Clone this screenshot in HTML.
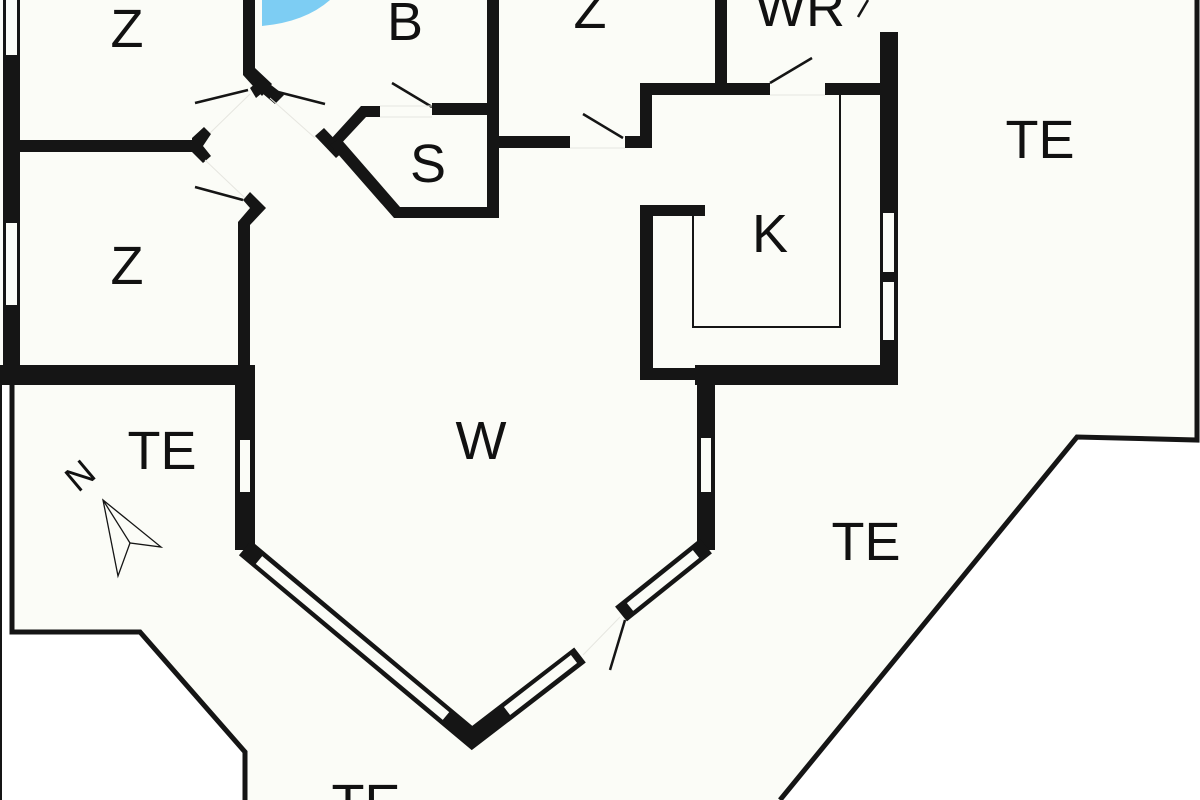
<!DOCTYPE html>
<html><head><meta charset="utf-8"><style>
html,body{margin:0;padding:0;background:#fff;}
svg{display:block;}
text{font-family:"Liberation Sans",sans-serif;fill:#111;}
</style></head><body>
<svg width="1200" height="800" viewBox="0 0 1200 800" xmlns="http://www.w3.org/2000/svg">
<rect width="1200" height="800" fill="#fff"/>
<polygon points="0,0 1197,0 1197,440 1077,437 780,800 245,800 245,752 140,632 12,632 12,385 0,385" fill="#fbfcf7"/>
<path d="M262,0 L330,0 Q305,22 262,26 Z" fill="#7dcdf3"/>
<g fill="#151515" stroke="none">
<rect x="3" y="55" width="17" height="168"/>
<rect x="3" y="305" width="17" height="80"/>
<rect x="3" y="0" width="3" height="55"/><rect x="17" y="0" width="3" height="55"/>
<rect x="3" y="222" width="3" height="84"/><rect x="17" y="222" width="3" height="84"/>
<rect x="18" y="140" width="180" height="12"/>
<polygon points="192,138 204,127 211,134 203,146 211,156 203,163 192,152"/>
<polygon points="243,0 255,0 255,68 272,84 262,96 243,75"/>
<polygon points="250,88 262,78 284,95 275,104 262,93 256,98"/>
<polygon points="238,222 250,208 243,200 250,192 266,208 250,225 250,370 238,370"/>
<rect x="0" y="365" width="255" height="20"/>
<rect x="235" y="368" width="20" height="72"/>
<rect x="235" y="492" width="20" height="58"/>
<rect x="235" y="440" width="5" height="52"/><rect x="250" y="440" width="5" height="52"/>
<rect x="697" y="368" width="18" height="70"/>
<rect x="697" y="492" width="18" height="58"/>
<rect x="697" y="438" width="4" height="54"/><rect x="711" y="438" width="4" height="54"/>
<rect x="695" y="365" width="202" height="20"/>
<rect x="640" y="205" width="13" height="175"/>
<rect x="640" y="368" width="60" height="12"/>
<rect x="640" y="205" width="65" height="11"/>
<rect x="880" y="32" width="18" height="181"/>
<rect x="880" y="272" width="18" height="10"/>
<rect x="880" y="340" width="18" height="45"/>
<rect x="880" y="213" width="3" height="127"/><rect x="894" y="213" width="4" height="127"/>
<rect x="640" y="83" width="130" height="12"/>
<rect x="825" y="83" width="60" height="12"/>
<rect x="715" y="0" width="12" height="90"/>
<rect x="640" y="83" width="12" height="65"/>
<rect x="625" y="136" width="27" height="12"/>
<rect x="497" y="136" width="73" height="12"/>
<rect x="487" y="0" width="12" height="218"/>
<rect x="432" y="103" width="67" height="12"/>
<polygon points="361,106 380,106 380,117 366,117 338,147 330,140"/>
<polygon points="315,136 324,128 345,150 336,158"/>
<polygon points="330,145 340,138 400,207 499,207 499,218 394,218"/>
</g>
<!-- diagonal walls -->
<g fill="none" stroke="#151515" stroke-width="19" stroke-linejoin="miter" stroke-miterlimit="10">
<polyline points="245,548 472,738 580,655"/>
<line x1="621" y1="614" x2="706" y2="546"/>
</g>
<g fill="none" stroke="#fbfcf7" stroke-width="10" stroke-linecap="butt">
<line x1="259" y1="560" x2="446" y2="716"/>
<line x1="507" y1="711" x2="574" y2="659"/>
<line x1="630" y1="607" x2="696" y2="554"/>
</g>
<g stroke="#151515" fill="none">
<polyline points="12,385 12,632 140,632 245,752 245,800" stroke-width="5"/>
<polyline points="1197,0 1197,440 1077,437 780,800" stroke-width="5"/>
<polyline points="693,215 693,327 840,327 840,95" stroke-width="2"/>
<line x1="1" y1="385" x2="1" y2="800" stroke-width="2"/>
<line x1="195" y1="103" x2="248" y2="90" stroke-width="2.5"/>
<line x1="278" y1="92" x2="325" y2="104" stroke-width="2.5"/>
<line x1="195" y1="187" x2="243" y2="200" stroke-width="2.5"/>
<line x1="392" y1="83" x2="432" y2="107" stroke-width="2.5"/>
<line x1="583" y1="114" x2="623" y2="138" stroke-width="2.5"/>
<line x1="770" y1="83" x2="812" y2="58" stroke-width="2.5"/>
<line x1="858" y1="17" x2="868" y2="0" stroke-width="2.5"/>
<line x1="625" y1="620" x2="610" y2="670" stroke-width="2.5"/>
<polygon points="103,500 161,547 130,543 118,576" stroke-width="1.3"/>
<line x1="103" y1="500" x2="130" y2="543" stroke-width="1.3"/>
</g>
<g stroke="#e6e6e0" stroke-width="1" fill="none">
<line x1="380" y1="106" x2="432" y2="106"/><line x1="380" y1="117" x2="432" y2="117"/>
<line x1="570" y1="148" x2="625" y2="148"/>
<line x1="770" y1="95" x2="825" y2="95"/>
<line x1="583" y1="655" x2="620" y2="617"/>
<line x1="210" y1="133" x2="250" y2="94"/><line x1="270" y1="98" x2="315" y2="138"/>
<line x1="205" y1="160" x2="245" y2="198"/>
</g>
<g font-size="54" text-anchor="middle">
<text x="127" y="47">Z</text>
<text x="405" y="40">B</text>
<text x="590" y="28">Z</text>
<text x="800" y="26">WR</text>
<text x="428" y="182">S</text>
<text x="770" y="252">K</text>
<text x="1040" y="158">TE</text>
<text x="162" y="469">TE</text>
<text x="481" y="459">W</text>
<text x="866" y="560">TE</text>
<text x="127" y="284">Z</text>
<text x="366" y="822">TE</text>
<text x="0" y="0" font-size="36" transform="translate(88,485) rotate(-40)">N</text>
</g>
</svg>
</body></html>
